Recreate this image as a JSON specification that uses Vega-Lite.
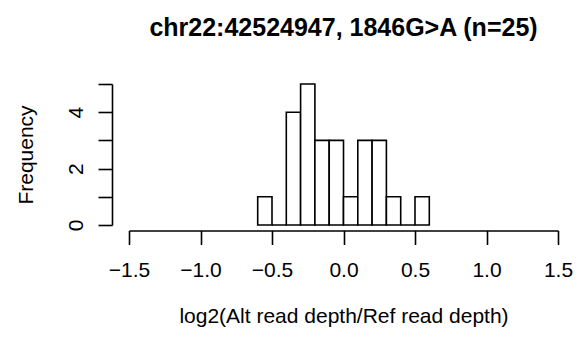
{
  "$schema": "https://vega.github.io/schema/vega-lite/v6.json",
  "autosize": "none",
  "width": 429,
  "height": 141,
  "padding": {"left": 129, "top": 84, "right": 20, "bottom": 112},
  "background": "white",
  "title": {
    "text": "chr22:42524947, 1846G>A (n=25)",
    "font": "Liberation Sans",
    "fontSize": 25,
    "fontWeight": "bold",
    "color": "black",
    "anchor": "middle",
    "baseline": "alphabetic",
    "offset": 22
  },
  "data": {
    "values": [
      {"start": -0.6, "end": -0.5, "count": 1},
      {"start": -0.5, "end": -0.4, "count": 0},
      {"start": -0.4, "end": -0.3, "count": 4},
      {"start": -0.3, "end": -0.2, "count": 5},
      {"start": -0.2, "end": -0.1, "count": 3},
      {"start": -0.1, "end": 0.0, "count": 3},
      {"start": 0.0, "end": 0.1, "count": 1},
      {"start": 0.1, "end": 0.2, "count": 3},
      {"start": 0.2, "end": 0.3, "count": 3},
      {"start": 0.3, "end": 0.4, "count": 1},
      {"start": 0.4, "end": 0.5, "count": 0},
      {"start": 0.5, "end": 0.6, "count": 1}
    ]
  },
  "mark": {"type": "rect", "fill": "white", "stroke": "black", "strokeWidth": 1.6},
  "encoding": {
    "x": {
      "field": "start",
      "type": "quantitative",
      "scale": {"domain": [-1.5, 1.5], "nice": false, "zero": false},
      "axis": {
        "title": "log2(Alt read depth/Ref read depth)",
        "values": [-1.5, -1.0, -0.5, 0.0, 0.5, 1.0, 1.5],
        "format": ".1f",
        "offset": 5.5,
        "grid": false,
        "domainColor": "black",
        "domainWidth": 1.6,
        "tickColor": "black",
        "tickWidth": 1.6,
        "tickSize": 14,
        "labelBaseline": "alphabetic",
        "labelPadding": 32,
        "labelFont": "Liberation Sans",
        "labelFontSize": 21,
        "labelColor": "black",
        "labelOverlap": false,
        "labelFlush": false,
        "titleFont": "Liberation Sans",
        "titleFontSize": 21,
        "titleFontWeight": "normal",
        "titleColor": "black",
        "titleBaseline": "alphabetic",
        "titleAnchor": "middle",
        "titleX": 214.5,
        "titleY": 92
      }
    },
    "x2": {"field": "end"},
    "y": {
      "field": "count",
      "type": "quantitative",
      "scale": {"domain": [0, 5], "nice": false},
      "axis": {
        "title": "Frequency",
        "values": [0, 1, 2, 3, 4, 5],
        "labelExpr": "datum.value % 2 == 0 ? datum.label : ''",
        "offset": 17,
        "grid": false,
        "domainColor": "black",
        "domainWidth": 1.6,
        "tickColor": "black",
        "tickWidth": 1.6,
        "tickSize": 14,
        "labelAngle": -90,
        "labelAlign": "center",
        "labelBaseline": "alphabetic",
        "labelPadding": 16,
        "labelFont": "Liberation Sans",
        "labelFontSize": 21,
        "labelColor": "black",
        "labelOverlap": false,
        "titleFont": "Liberation Sans",
        "titleFontSize": 21,
        "titleFontWeight": "normal",
        "titleColor": "black",
        "titleAngle": -90,
        "titleAlign": "center",
        "titleBaseline": "alphabetic",
        "titleX": -80,
        "titleY": 70.5
      }
    },
    "y2": {"datum": 0}
  },
  "config": {"view": {"stroke": null}}
}
